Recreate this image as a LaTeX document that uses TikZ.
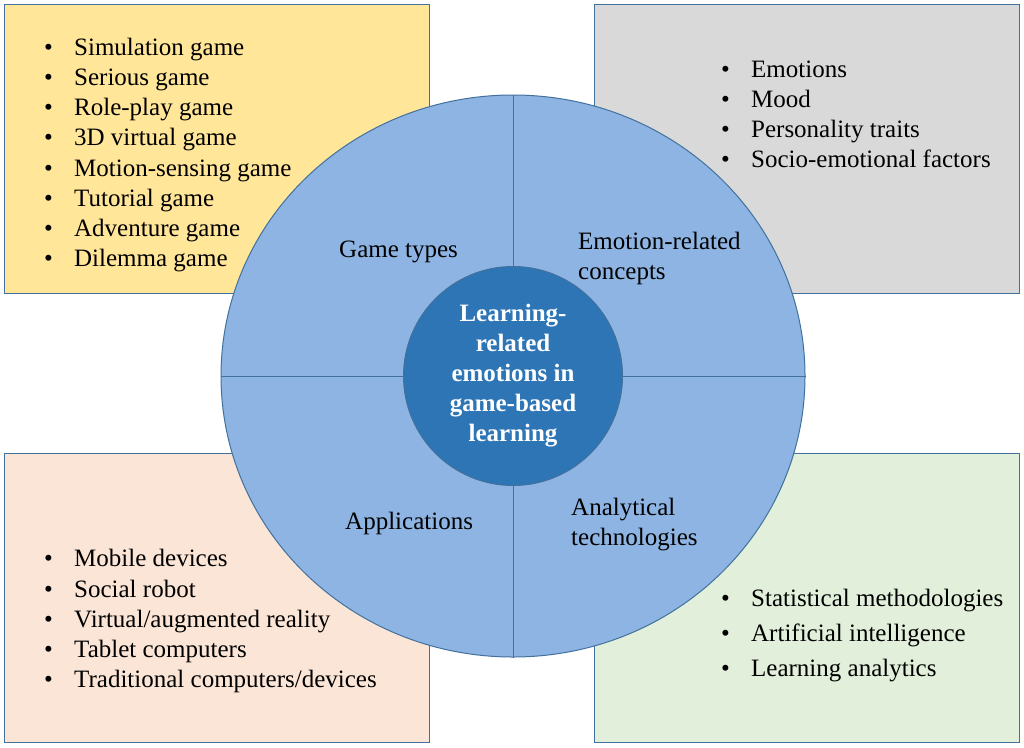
\documentclass[tikz,border=0pt]{standalone}
\usepackage{fontspec}
\setmainfont{Liberation Serif}
\usepackage{xcolor}
\definecolor{edgeblue}{HTML}{41719C}
\definecolor{gamefill}{HTML}{FFE699}
\definecolor{emofill}{HTML}{D9D9D9}
\definecolor{appfill}{HTML}{FBE5D6}
\definecolor{techfill}{HTML}{E2EFDA}
\definecolor{hubfill}{HTML}{8DB4E2}
\definecolor{corefill}{HTML}{2E75B6}
\usetikzlibrary{positioning,shapes.geometric}
\newcommand{\bigfont}{\fontsize{25}{30}\selectfont}
\newcommand{\bul}[1]{\makebox[30pt][l]{\textbullet}#1}
\tikzset{
  panel/.style = {rectangle,draw=edgeblue,line width=1pt,inner sep=0pt,
                  minimum width=425pt,minimum height=289pt},
  hub/.style   = {ellipse,draw=edgeblue,line width=1pt,fill=hubfill,
                  inner sep=0pt,minimum width=584pt,minimum height=562pt},
  core/.style  = {circle,draw=edgeblue,line width=1pt,fill=corefill,
                  inner sep=0pt,minimum size=219pt,align=center,
                  text=white,font=\bigfont\bfseries},
  split/.style = {draw=edgeblue,line width=1pt},
  quad/.style  = {font=\bigfont,inner sep=0pt,align=left,anchor=base west},
  item/.style  = {font=\bigfont,inner sep=0pt,anchor=base west},
}
% bullet list: name, text x, first baseline, line step, items
\newcommand{\itemlist}[5]{%
  \foreach \txt [count=\idx] in {#5}
    \node[item] (#1-\idx) at ({#2-30},{#3+(\idx-1)*#4}) {\bul{\txt}};%
}

\begin{document}
\begin{tikzpicture}[x=1pt,y=-1pt]
  \useasboundingbox (0,0) rectangle (1024,747);

  % Four panels
  \node[panel,fill=gamefill] (gamebox) at (216.5,148.5) {};
  \node[panel,fill=emofill]  (emobox)  at (806.5,148.5) {};
  \node[panel,fill=appfill]  (appbox)  at (216.5,598) {};
  \node[panel,fill=techfill] (techbox) at (806.5,598) {};

  % Big disc split in quadrants
  \node[hub] (hub) at (513,376) {};
  \draw[split] (hub.north) -- (hub.south);
  \draw[split] (hub.west) -- (hub.east);

  % Core
  \node[core] (core) at (513,376)
        {Learning-\\related\\emotions in\\game-based\\learning};

  % Quadrant labels (base = last line)
  \node[quad] (gamelbl) at (339,257) {Game types};
  \node[quad] (emolbl)  at (578,279) {Emotion-related\\concepts};
  \node[quad] (applbl)  at (345,529) {Applications};
  \node[quad] (techlbl) at (571,545) {Analytical\\technologies};

  % Lists
  \itemlist{game}{74}{55}{30.25}{Simulation game,Serious game,Role-play game,
    3D virtual game,Motion-sensing game,Tutorial game,Adventure game,Dilemma game}
  \itemlist{emo}{751}{77.7}{30}{Emotions,Mood,Personality traits,
    Socio-emotional factors}
  \itemlist{app}{74}{566.7}{30.3}{Mobile devices,Social robot,
    Virtual/augmented reality,Tablet computers,Traditional computers/devices}
  \itemlist{tech}{751}{606.7}{35}{Statistical methodologies,
    Artificial intelligence,Learning analytics}
\end{tikzpicture}
\end{document}
